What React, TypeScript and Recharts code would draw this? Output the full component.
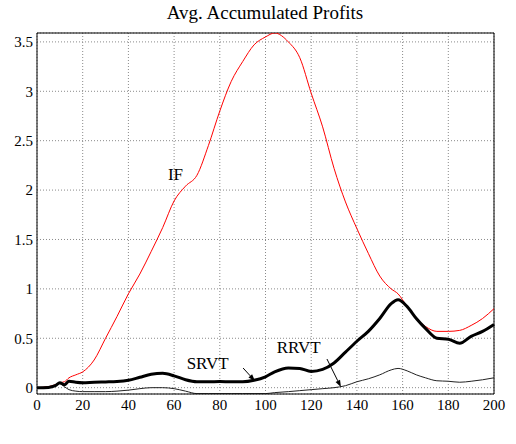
import React from 'react';
import { CartesianGrid, Line, LineChart, ReferenceDot, ReferenceLine, XAxis, YAxis } from 'recharts';

const xs = [0, 5, 8, 10, 12, 14, 17, 20, 25, 30, 35, 40, 45, 50, 55, 60, 65, 70, 75, 80, 85, 90, 95, 100, 104, 110, 115, 120, 125, 130, 135, 140, 145, 150, 155, 158, 162, 166, 170, 175, 180, 185, 190, 195, 200];

const ifValues = [0, 0.01, 0.03, 0.05, 0.06, 0.1, 0.13, 0.16, 0.28, 0.5, 0.72, 0.95, 1.15, 1.38, 1.62, 1.89, 2.04, 2.15, 2.45, 2.8, 3.1, 3.3, 3.47, 3.55, 3.59, 3.5, 3.34, 2.98, 2.64, 2.22, 1.88, 1.61, 1.36, 1.13, 1.0, 0.95, 0.82, 0.7, 0.62, 0.57, 0.57, 0.58, 0.63, 0.7, 0.8];

const srvtValues = [0, 0.003, 0.02, 0.05, 0.03, 0.065, 0.055, 0.05, 0.055, 0.058, 0.062, 0.075, 0.105, 0.135, 0.145, 0.12, 0.08, 0.06, 0.06, 0.062, 0.06, 0.06, 0.075, 0.11, 0.16, 0.2, 0.195, 0.165, 0.185, 0.25, 0.36, 0.47, 0.57, 0.7, 0.85, 0.89, 0.82, 0.7, 0.6, 0.5, 0.49, 0.45, 0.52, 0.57, 0.64];

const rrvtValues = [0, 0.01, 0.025, 0.04, 0.01, -0.02, -0.035, -0.04, -0.04, -0.04, -0.035, -0.025, -0.01, 0, 0, -0.01, -0.035, -0.06, -0.06, -0.06, -0.06, -0.06, -0.06, -0.06, -0.05, -0.04, -0.03, -0.02, -0.01, 0, 0.02, 0.06, 0.09, 0.13, 0.18, 0.195, 0.17, 0.13, 0.1, 0.07, 0.065, 0.055, 0.065, 0.08, 0.1];

const xTicks = [0, 20, 40, 60, 80, 100, 120, 140, 160, 180, 200];
const yTicks = [0, 0.5, 1, 1.5, 2, 2.5, 3, 3.5];

const labels = [
  { text: 'IF', x: 57.3, y: 2.104 },
  { text: 'SRVT', x: 65.5, y: 0.188 },
  { text: 'RRVT', x: 104.9, y: 0.354 },
];

const arrows = [
  { from: { x: 90.2, y: 0.199 }, to: { x: 95.4, y: 0.067 } },
  { from: { x: 126.9, y: 0.29 }, to: { x: 133.0, y: 0.006 } },
];

const data = xs.map((x, i) => ({
  x,
  IF: ifValues[i],
  SRVT: srvtValues[i],
  RRVT: rrvtValues[i],
}));

const font = 'Times New Roman, Liberation Serif, DejaVu Serif, serif';

const Arrow = (props: any) => {
  const { x1, y1, x2, y2 } = props;
  const ang = Math.atan2(y2 - y1, x2 - x1);
  const len = 7;
  const w = 2.5;
  const bx = x2 - len * Math.cos(ang);
  const by = y2 - len * Math.sin(ang);
  const px = -Math.sin(ang) * w;
  const py = Math.cos(ang) * w;
  return (
    <g>
      <line x1={x1} y1={y1} x2={bx} y2={by} stroke="#000" strokeWidth={1} />
      <polygon points={`${x2},${y2} ${bx + px},${by + py} ${bx - px},${by - py}`} fill="#000" />
    </g>
  );
};

export default function App() {
  return (
    <div style={{ position: 'absolute', left: 0, top: 0, width: 516, height: 444, background: '#fff', fontFamily: font }}>
      <div
        style={{
          position: 'absolute',
          top: 2,
          left: 0,
          width: 530,
          textAlign: 'center',
          fontSize: 19,
          fontFamily: font,
          color: '#000',
        }}
      >
        Avg. Accumulated Profits
      </div>
      <LineChart
        width={516}
        height={444}
        data={data}
        margin={{ top: 33, right: 22, bottom: 20, left: 0 }}
        style={{ fontFamily: font }}
      >
        <CartesianGrid stroke="#8a8a8a" strokeDasharray="1 2" />
        <XAxis
          dataKey="x"
          type="number"
          domain={[0, 200]}
          ticks={xTicks}
          height={30}
          tickLine={false}
          tickSize={5}
          tickMargin={0}
          axisLine={{ stroke: '#000' }}
          tick={{ fill: '#000', fontSize: 15, fontFamily: font }}
        />
        <YAxis
          type="number"
          domain={[-0.064, 3.59]}
          allowDataOverflow
          ticks={yTicks}
          width={37}
          tickLine={false}
          tickSize={4}
          tickMargin={0}
          axisLine={{ stroke: '#000' }}
          tick={{ fill: '#000', fontSize: 15, fontFamily: font }}
        />
        <ReferenceLine y={3.59} stroke="#000" />
        <ReferenceLine x={200} stroke="#000" />
        <Line type="monotone" dataKey="RRVT" stroke="#222" strokeWidth={1} dot={false} isAnimationActive={false} />
        <Line type="monotone" dataKey="IF" stroke="#ff0000" strokeWidth={1} dot={false} isAnimationActive={false} />
        <Line type="monotone" dataKey="SRVT" stroke="#000" strokeWidth={3} dot={false} isAnimationActive={false} />
        {arrows.map((a, i) => (
          <ReferenceLine key={`a${i}`} segment={[a.from, a.to]} shape={Arrow} />
        ))}
        {labels.map((l) => (
          <ReferenceDot
            key={l.text}
            x={l.x}
            y={l.y}
            r={0}
            shape={(p: any) => (
              <text x={p.cx} y={p.cy} fontSize={17} fontFamily={font} fill="#000">
                {l.text}
              </text>
            )}
          />
        ))}
      </LineChart>
    </div>
  );
}
